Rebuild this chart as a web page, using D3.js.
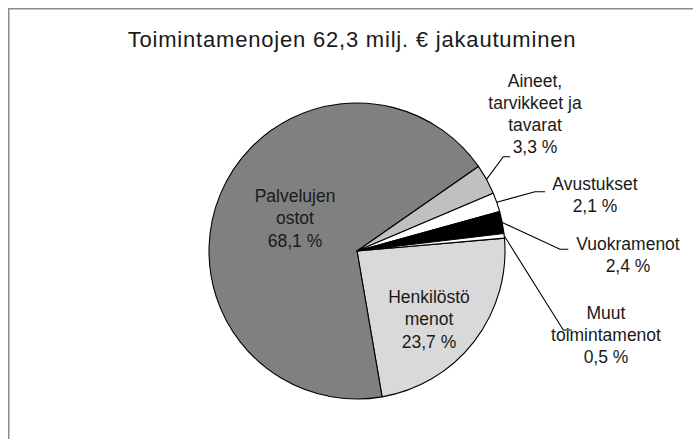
<!DOCTYPE html>
<html>
<head>
<meta charset="utf-8">
<script src="https://cdn.jsdelivr.net/npm/d3@7"></script>
<style>
  html, body { margin: 0; padding: 0; background: #fff; }
  svg text { font-family: "Liberation Sans", Arial, sans-serif; fill: #1a1a1a; }
</style>
</head>
<body>
<figure id="pie" style="margin:0"></figure>
<script>
// data, in the order the spreadsheet lists it
const categories = ["Henkilöstö menot", "Palvelujen ostot", "Aineet, tarvikkeet ja tavarat", "Avustukset", "Vuokramenot", "Muut toimintamenot"];
const shares = [23.7, 68.1, 3.3, 2.1, 2.4, 0.5];
const labelLines = [
  ["Henkilöstö", "menot"],
  ["Palvelujen", "ostot"],
  ["Aineet,", "tarvikkeet ja", "tavarat"],
  ["Avustukset"],
  ["Vuokramenot"],
  ["Muut", "toimintamenot"]
];
const fills = ["#d9d9d9", "#808080", "#c0c0c0", "#ffffff", "#000000", "#ffffff"];

const width = 693;
const height = 439;
const cx = 357, cy = 251;
const radius = 148;
const lineGap = 22.3;

// where each label block sits (x = centre, y = first baseline) and the leader elbow
const labelLayout = [
  { x: 429, y: 303, inside: true },
  { x: 295, y: 202, inside: true },
  { x: 535, y: 86.5, elbow: [503.3, 156.7], end: 510 },
  { x: 595, y: 190, elbow: [535, 191.7], end: 545 },
  { x: 628, y: 250, elbow: [560, 249.3], end: 568.3 },
  { x: 606, y: 318.5, elbow: [563.3, 330], end: 571.7 }
];

const svg = d3.select("figure#pie")
  .append("svg")
  .attr("width", width)
  .attr("height", height);

// chart frame (right and bottom edges fall outside the picture)
svg.append("rect")
  .attr("x", 8.75)
  .attr("y", 8.75)
  .attr("width", 720)
  .attr("height", 460)
  .attr("fill", "none")
  .attr("stroke", "#8c8c8c")
  .attr("stroke-width", 1.5);

svg.append("text")
  .attr("x", 352)
  .attr("y", 47)
  .attr("text-anchor", "middle")
  .style("font-size", "22px")
  .style("letter-spacing", "0.8px")
  .text("Toimintamenojen 62,3 milj. € jakautuminen");

const g = svg.append("g")
  .attr("transform", "translate(" + cx + "," + cy + ")");

const pie = d3.pie()
  .sort(null)
  .startAngle(85 * Math.PI / 180)
  .endAngle(445 * Math.PI / 180)
  .value(d => d);

const arc = d3.arc()
  .innerRadius(0)
  .outerRadius(radius);

const pieData = pie(shares);

g.selectAll("path")
  .data(pieData)
  .enter()
  .append("path")
  .attr("d", arc)
  .attr("fill", (d, i) => fills[i])
  .attr("stroke", "#000")
  .attr("stroke-width", 1.1)
  .attr("stroke-linejoin", "round");

// leader lines for the thin slices
pieData.forEach((d, i) => {
  const lay = labelLayout[i];
  if (lay.inside) return;
  const mid = (d.startAngle + d.endAngle) / 2;
  const sx = cx + radius * Math.sin(mid);
  const sy = cy - radius * Math.cos(mid);
  svg.append("polyline")
    .attr("points", [[sx, sy], lay.elbow, [lay.end, lay.elbow[1]]].map(p => p.join(",")).join(" "))
    .attr("fill", "none")
    .attr("stroke", "#000")
    .attr("stroke-width", 1.1);
});

// labels: name lines then the share
pieData.forEach((d, i) => {
  const lay = labelLayout[i];
  const lines = labelLines[i].concat([d3.format(".1f")(shares[i]).replace(".", ",") + " %"]);
  const t = svg.append("text")
    .attr("text-anchor", "middle")
    .style("font-size", "17.5px");
  lines.forEach((s, k) => {
    t.append("tspan")
      .attr("x", lay.x)
      .attr("y", lay.y + k * lineGap)
      .text(s);
  });
});
</script>
</body>
</html>
